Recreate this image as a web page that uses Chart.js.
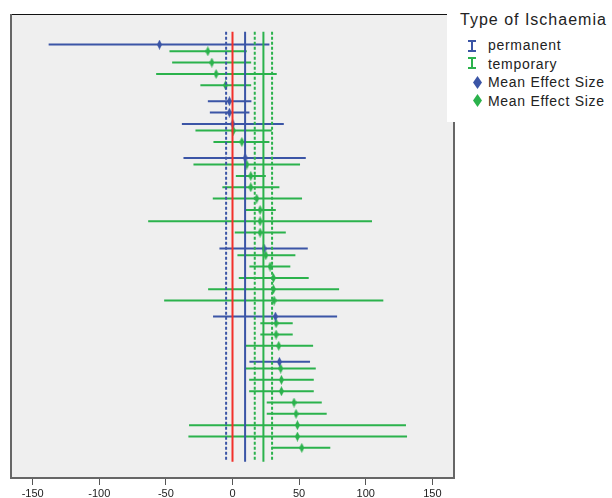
<!DOCTYPE html>
<html>
<head>
<meta charset="utf-8">
<script src="https://cdn.jsdelivr.net/npm/chart.js@4.4.1/dist/chart.umd.min.js"></script>
<style>
  body { margin: 0; background: #fff; }
  #wrap { position: relative; width: 612px; height: 498px; font-family: "Liberation Sans", Arial, sans-serif; color: #222; }
  #legend { position: absolute; left: 447px; top: 0; width: 165px; height: 122px; background: #fff; }
  #legend .ttl { position: absolute; left: 13px; top: 12px; font-size: 16px; line-height: 16px; letter-spacing: 1px; white-space: nowrap; }
  #legend .lbl { position: absolute; left: 41px; font-size: 14px; line-height: 14px; letter-spacing: 0.7px; white-space: nowrap; }
  #legend svg { position: absolute; }
</style>
</head>
<body>
<div id="wrap">
  <canvas id="chart" width="612" height="498"></canvas>
  <div id="legend">
    <div class="ttl">Type of Ischaemia</div>
    <svg style="left:21px;top:40px" width="8" height="12"><path d="M0 1H8M4 1V11M0 11H8" stroke="#3b55a6" stroke-width="2" fill="none"/></svg>
    <div class="lbl" style="top:38px">permanent</div>
    <svg style="left:21px;top:57px" width="8" height="12"><path d="M0 1H8M4 1V11M0 11H8" stroke="#2bb24c" stroke-width="2" fill="none"/></svg>
    <div class="lbl" style="top:56.5px">temporary</div>
    <svg style="left:26px;top:76px" width="9" height="13"><path d="M4.5 0L9 6.5L4.5 13L0 6.5Z" fill="#3b55a6"/></svg>
    <div class="lbl" style="top:75px">Mean Effect Size</div>
    <svg style="left:26px;top:94px" width="9" height="13"><path d="M4.5 0L9 6.5L4.5 13L0 6.5Z" fill="#2bb24c"/></svg>
    <div class="lbl" style="top:93.5px">Mean Effect Size</div>
  </div>
</div>
<script>
// studies ranked by effect size; row = position from the top
const xTicks = [-150, -100, -50, 0, 50, 100, 150];

const permanentRow = [1, 6, 7, 8, 11, 19, 25, 29];
const permanentMean = [-54.8, -2.3, -2.3, 0.2, 9.5, 23.7, 32.2, 35.2];
const permanentLow = [-138, -18.5, -17, -38, -36.8, -9.8, -14.6, 12.7];
const permanentHigh = [27.7, 14.2, 12.7, 38.5, 55, 56.5, 78.5, 58.2];

const temporaryRow = [2, 3, 4, 5, 9, 10, 12, 13, 14, 15, 16, 17, 18, 20, 21, 22, 23, 24,
  26, 27, 28, 30, 31, 32, 33, 34, 35, 36, 37];
const temporaryMean = [-18.5, -15.5, -12.3, -5.3, 0.7, 7.0, 10.7, 13.7, 13.7, 18.2, 20.7, 20.7,
  20.7, 25.0, 28.2, 30.7, 30.7, 31.2, 32.7, 32.7, 34.7, 36.2, 36.7, 36.7, 46.2, 47.7, 48.7, 48.7, 52.0];
const temporaryLow = [-47.3, -45.3, -57.3, -24.1, -27.8, -14.3, -29.3, 2.5, -7.6, -14.8, 10.0, -63.3,
  1.7, 3.7, 12.7, 4.7, -18.3, -51.3, 20.9, 20.9, 10.0, 10.0, 12.5, 12.5, 25.7, 25.7, -32.6, -33.1, 29.7];
const temporaryHigh = [10.7, 14.0, 33.2, 14.0, 29.5, 27.7, 50.7, 25.0, 35.2, 52.2, 32.5, 104.7,
  40.0, 47.2, 43.4, 57.2, 80.0, 113.2, 45.2, 45.2, 60.5, 62.5, 61.0, 61.0, 67.0, 70.7, 130.2, 131.0, 73.4];

// pooled estimates: zero line, pooled means and their confidence limits
const zeroLine = 0;
const permanentPooled = 9.45;
const permanentPooledLow = -4.8;
const temporaryPooled = 23.2;
const temporaryPooledLow = 16.7;
const temporaryPooledHigh = 29.7;

const BLUE = '#3b55a6';
const GREEN = '#2bb24c';
const RED = '#f2302b';
const dodge = 0.41;          // permanent rows sit a little below the row line
const refSpan = [0.27, 38.22];

function diamond(color, w, h) {
  const c = document.createElement('canvas');
  c.width = w; c.height = h;
  const g = c.getContext('2d');
  g.fillStyle = color;
  g.beginPath();
  g.moveTo(w / 2, 0); g.lineTo(w, h / 2); g.lineTo(w / 2, h); g.lineTo(0, h / 2);
  g.closePath(); g.fill();
  return c;
}

function bars(rows, low, high, shift) {
  const out = [];
  rows.forEach((r, i) => {
    out.push({ x: low[i], y: r + shift }, { x: high[i], y: r + shift }, { x: null, y: null });
  });
  return out;
}

function refLine(v, color, dash) {
  return {
    data: [{ x: v, y: refSpan[0] }, { x: v, y: refSpan[1] }],
    showLine: true, borderColor: color, borderWidth: 2, borderDash: dash,
    pointRadius: 0, order: 0
  };
}

const framePlugin = {
  id: 'frame',
  beforeDraw(chart) {
    const { ctx, chartArea: a } = chart;
    ctx.save();
    ctx.fillStyle = '#efefef';
    ctx.fillRect(a.left, a.top, a.right - a.left, a.bottom - a.top);
    ctx.restore();
  },
  afterDraw(chart) {
    const { ctx, chartArea: a } = chart;
    ctx.save();
    ctx.strokeStyle = '#111';
    ctx.lineWidth = 1;
    ctx.beginPath();
    ctx.moveTo(a.left, a.top + 0.5); ctx.lineTo(a.right, a.top + 0.5);
    ctx.stroke();
    ctx.strokeStyle = '#666';
    ctx.lineWidth = 2;
    ctx.beginPath();
    ctx.moveTo(a.left + 1, a.top); ctx.lineTo(a.left + 1, a.bottom);
    ctx.moveTo(a.left, a.bottom - 1); ctx.lineTo(a.right, a.bottom - 1);
    ctx.moveTo(a.right - 1, a.top); ctx.lineTo(a.right - 1, a.bottom);
    ctx.stroke();
    ctx.restore();
  }
};

new Chart(document.getElementById('chart'), {
  type: 'scatter',
  data: {
    datasets: [
      refLine(permanentPooledLow, BLUE, [3, 2]),
      refLine(zeroLine, RED, []),
      refLine(permanentPooled, BLUE, []),
      refLine(temporaryPooledLow, GREEN, [3, 2]),
      refLine(temporaryPooled, GREEN, []),
      refLine(temporaryPooledHigh, GREEN, [3, 2]),
      {
        label: 'permanent',
        data: bars(permanentRow, permanentLow, permanentHigh, dodge),
        showLine: true, borderColor: BLUE, borderWidth: 2, pointRadius: 0, order: 2
      },
      {
        label: 'temporary',
        data: bars(temporaryRow, temporaryLow, temporaryHigh, 0),
        showLine: true, borderColor: GREEN, borderWidth: 2, pointRadius: 0, order: 2
      },
      {
        label: 'Mean Effect Size',
        data: permanentRow.map((r, i) => ({ x: permanentMean[i], y: r + dodge })),
        pointStyle: diamond(BLUE, 5, 10), pointRadius: 4, order: 1
      },
      {
        label: 'Mean Effect Size',
        data: temporaryRow.map((r, i) => ({ x: temporaryMean[i], y: r })),
        pointStyle: diamond(GREEN, 5, 10), pointRadius: 4, order: 1
      }
    ]
  },
  options: {
    responsive: false,
    animation: false,
    layout: { padding: { left: 10, right: 157, top: 14, bottom: 0 } },
    plugins: { legend: { display: false }, tooltip: { enabled: false } },
    scales: {
      x: {
        type: 'linear',
        min: -167, max: 167,
        afterBuildTicks: s => { s.ticks = xTicks.map(v => ({ value: v })); },
        afterFit: s => { s.height = 19; },
        ticks: { color: '#222', padding: 2, font: { size: 11, family: '"Liberation Sans", Arial, sans-serif' } },
        grid: { drawOnChartArea: false, drawTicks: true, tickLength: 6, color: '#555', lineWidth: 1 },
        border: { display: false }
      },
      y: { type: 'linear', reverse: true, min: -1.29, max: 39.75, display: false }
    }
  },
  plugins: [framePlugin]
});
</script>
</body>
</html>
